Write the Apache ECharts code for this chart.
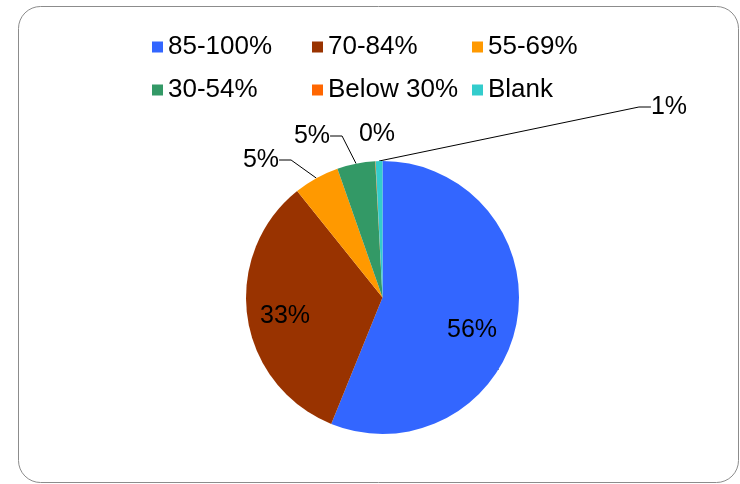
<!DOCTYPE html>
<html>
<head>
<meta charset="utf-8">
<script src="https://cdn.jsdelivr.net/npm/echarts@6/dist/echarts.min.js"></script>
<style>
html,body{margin:0;padding:0;background:#fff;}
#main{width:740px;height:484px;}
</style>
</head>
<body>
<div id="main"></div>
<script>
// ---- data ----
const categories = ['85-100%', '70-84%', '55-69%', '30-54%', 'Below 30%', 'Blank'];
const values = [56.1, 33.1, 5.4, 4.5, 0.05, 0.8];
const colors = ['#3366FF', '#993300', '#FF9900', '#339966', '#FF6600', '#33CCCC'];

// ---- label placement (style) ----
const labelPos = [
  {x: 472, y: 330},
  {x: 285, y: 316},
  {x: 261, y: 160},
  {x: 312, y: 136},
  {x: 377, y: 134},
  {x: 669, y: 107}
];

const chart = echarts.init(document.getElementById('main'), null, {renderer: 'canvas'});

const pieData = categories.map((c, i) => {
  const d = {name: c, value: values[i], itemStyle: {color: colors[i]}};
  if (i < 2) d.label = {position: 'inside'};
  if (i === 4) d.labelLine = {show: false};
  return d;
});

const legendText = {fontFamily: 'Liberation Sans, Arial, sans-serif', fontSize: 26, color: '#000', width: 139, lineHeight: 26};

chart.setOption({
  animation: false,
  backgroundColor: '#fff',
  graphic: [{
    type: 'rect',
    shape: {x: 18.5, y: 6.5, width: 720, height: 476, r: 22},
    style: {fill: 'none', stroke: '#8c8c8c', lineWidth: 1},
    z: 0
  }],
  legend: [{
    data: categories.slice(0, 3),
    left: 152, top: 34, padding: 0,
    icon: 'rect', itemWidth: 11, itemHeight: 11, itemGap: 5,
    textStyle: legendText,
    selectedMode: false
  }, {
    data: categories.slice(3),
    left: 152, top: 77, padding: 0,
    icon: 'rect', itemWidth: 11, itemHeight: 11, itemGap: 5,
    textStyle: legendText,
    selectedMode: false
  }],
  series: [{
    type: 'pie',
    center: [382.5, 297.5],
    radius: 136.5,
    startAngle: 90,
    clockwise: true,
    avoidLabelOverlap: false,
    data: pieData,
    itemStyle: {borderWidth: 0},
    emphasis: {disabled: true},
    label: {
      show: true,
      position: 'outside',
      formatter: p => Math.round(p.percent) + '%',
      fontFamily: 'Liberation Sans, Arial, sans-serif',
      fontSize: 25,
      color: '#000'
    },
    labelLine: {
      show: true,
      length: 10,
      length2: 12,
      smooth: false,
      lineStyle: {color: '#000', width: 1}
    },
    labelLayout: function (params) {
      const p = labelPos[params.dataIndex];
      return {x: p.x, y: p.y, align: 'center', verticalAlign: 'middle'};
    }
  }]
});
</script>
</body>
</html>
